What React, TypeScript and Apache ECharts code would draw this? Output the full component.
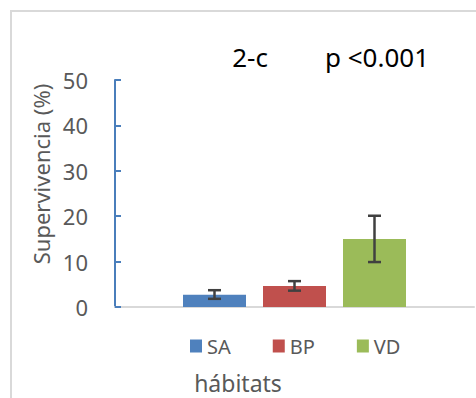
import React, { useEffect, useRef } from "react";
import * as echarts from "echarts";

const categories = [""];
const seriesNames = ["SA", "BP", "VD"];
const means = [2.7, 4.6, 15];
const errLow = [1.8, 3.6, 9.9];
const errHigh = [3.7, 5.7, 20.1];
const colors = ["#4F81BD", "#C0504D", "#9BBB59"];
const yTicks = { min: 0, max: 50, interval: 10 };

const BAR_WIDTH = 63;
const BAR_GAP_PX = 17;
const FONT = "'Noto Sans', 'Open Sans', sans-serif";

export default function App() {
  const ref = useRef<HTMLDivElement>(null);
  useEffect(() => {
    if (!ref.current) return;
    const chart = echarts.init(ref.current, undefined, { renderer: "svg" });
    const barSeries = seriesNames.map((name, i) => ({
      name,
      type: "bar",
      data: [means[i]],
      barWidth: BAR_WIDTH,
      barGap: `${(BAR_GAP_PX / BAR_WIDTH) * 100}%`,
      itemStyle: { color: colors[i] },
    }));
    const n = seriesNames.length;
    const errData = seriesNames.map((_, i) => [0, errLow[i], errHigh[i], i]);
    chart.setOption({
      animation: false,
      textStyle: { fontFamily: FONT },
      grid: { left: 115, right: 2, top: 80, bottom: 91 },
      legend: {
        data: seriesNames,
        left: 185,
        top: 331,
        itemWidth: 12,
        itemHeight: 13,
        itemGap: 42,
        icon: "rect",
        textStyle: { fontSize: 20, color: "#595959", fontFamily: FONT },
      },
      xAxis: {
        type: "category",
        data: categories,
        axisLine: { lineStyle: { color: "#d9d9d9", width: 2 } },
        axisTick: { inside: true, length: 5, lineStyle: { color: "#d9d9d9", width: 2 } },
        axisLabel: { show: false },
      },
      yAxis: {
        type: "value",
        min: yTicks.min,
        max: yTicks.max,
        interval: yTicks.interval,
        splitLine: { show: false },
        axisLine: { show: true, lineStyle: { color: "#4a7ebb", width: 2 } },
        axisTick: { show: true, inside: true, length: 6, lineStyle: { color: "#4a7ebb", width: 2 } },
        axisLabel: { color: "#595959", fontSize: 22, margin: 27, fontFamily: FONT },
      },
      series: [
        ...barSeries,
        {
          type: "custom",
          name: "err",
          data: errData,
          encode: { x: 0, y: [1, 2] },
          z: 10,
          renderItem: (params: any, api: any) => {
            const idx = api.value(3);
            const center = api.coord([api.value(0), 0])[0];
            const x = center + (idx - (n - 1) / 2) * (BAR_WIDTH + BAR_GAP_PX);
            const yLow = api.coord([api.value(0), api.value(1)])[1];
            const yHigh = api.coord([api.value(0), api.value(2)])[1];
            const cap = 6.5;
            const style = { stroke: "#404040", lineWidth: 2.5 };
            return {
              type: "group",
              children: [
                { type: "line", shape: { x1: x, y1: yLow, x2: x, y2: yHigh }, style },
                { type: "line", shape: { x1: x - cap, y1: yHigh, x2: x + cap, y2: yHigh }, style },
                { type: "line", shape: { x1: x - cap, y1: yLow, x2: x + cap, y2: yLow }, style },
              ],
            };
          },
        },
      ],
      graphic: [
        {
          type: "rect",
          shape: { x: 11, y: 11, width: 500, height: 420 },
          style: { fill: "none", stroke: "#d9d9d9", lineWidth: 2 },
          silent: true,
        },
        {
          type: "text",
          x: 250,
          y: 57,
          style: { text: "2-c", fontSize: 26, fill: "#000", fontFamily: FONT, align: "center", verticalAlign: "middle" },
        },
        {
          type: "text",
          x: 377,
          y: 57,
          style: { text: "p <0.001", fontSize: 26, fill: "#000", fontFamily: FONT, align: "center", verticalAlign: "middle" },
        },
        {
          type: "text",
          x: 238,
          y: 383,
          style: { text: "hábitats", fontSize: 23, fill: "#595959", fontFamily: FONT, align: "center", verticalAlign: "middle" },
        },
        {
          type: "text",
          x: 41,
          y: 174,
          rotation: Math.PI / 2,
          style: { text: "Supervivencia (%)", fontSize: 22, fill: "#595959", fontFamily: FONT, align: "center", verticalAlign: "middle" },
        },
      ],
    });
    return () => chart.dispose();
  }, []);
  return (
    <div
      ref={ref}
      style={{ position: "fixed", left: 0, top: 0, width: 476, height: 398, background: "#fff" }}
    />
  );
}
